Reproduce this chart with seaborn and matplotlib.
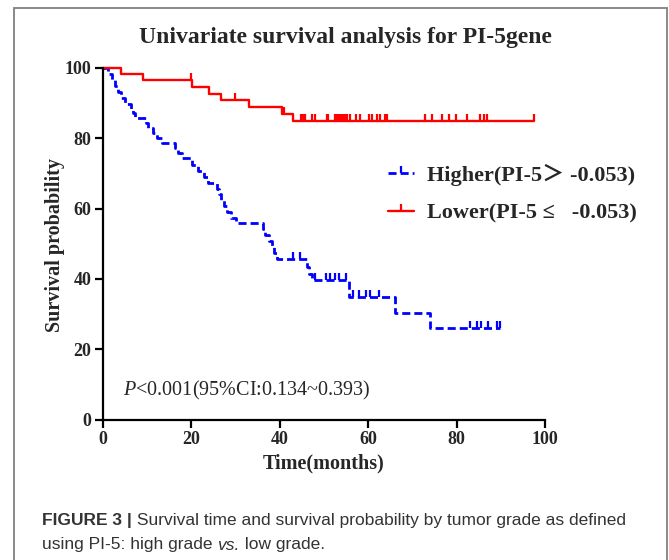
import matplotlib
matplotlib.use("Agg")
import matplotlib.pyplot as plt
import seaborn as sns
import pandas as pd
from matplotlib.lines import Line2D
from matplotlib.patches import Rectangle

# ---------------- data ----------------
title = "Univariate survival analysis for PI-5gene"
x_label = "Time(months)"
y_label = "Survival probability"
x_ticks = [0, 20, 40, 60, 80, 100]
y_ticks = [0, 20, 40, 60, 80, 100]
legend_labels = ["Higher(PI-5\uff1e -0.053)", "Lower(PI-5 \u2264   -0.053)"]
p_text = r"$\mathit{P}$<0.001(95%CI:0.134~0.393)"

# Higher group: step times (months) and survival (%) after each step
high_t = [0, 1.3, 2.0, 2.8, 3.5, 4.2, 5.0, 6.5, 6.9, 7.4,
          9.7, 10.3, 11.3, 12.3, 13.3, 16.4, 17.0, 17.9,
          20.1, 21.6, 22.8, 23.8, 25.9, 26.3, 26.8, 27.5, 28.2, 28.9, 30.2,
          36.2, 36.8, 37.5, 38.2, 38.7, 39.4, 46.2, 46.7, 47.3,
          55.6, 66.1, 73.9, 89.9]
high_s = [100, 98.3, 96.6, 94.9, 93.2, 91.5, 89.8, 88.4, 87.0, 85.7,
          84.3, 82.8, 81.4, 80.0, 78.5, 77.1, 75.7, 74.3,
          72.5, 70.7, 68.9, 67.2, 65.6, 64.0, 62.3, 60.7, 59.1, 57.4, 55.8,
          54.1, 52.4, 50.7, 49.0, 47.3, 45.6, 43.4, 41.5, 39.7,
          34.9, 30.4, 26.1, 26.1]
high_cens_t = [43.0, 44.6, 48.0, 50.5, 51.5, 52.5, 53.5, 55.0,
               56.5, 58.0, 59.5, 60.5, 62.5,
               83.1, 84.6, 85.5, 87.2, 89.1, 89.9]
high_cens_s = [45.6, 45.6, 39.7, 39.7, 39.7, 39.7, 39.7, 39.7,
               34.9, 34.9, 34.9, 34.9, 34.9,
               26.1, 26.1, 26.1, 26.1, 26.1, 26.1]

# Lower group
low_t = [0, 4.1, 9.2, 20.1, 24.0, 26.8, 33.0, 40.6, 43.0, 97.6]
low_s = [100, 98.2, 96.4, 94.5, 92.5, 90.8, 88.8, 86.9, 84.9, 84.9]
low_cens_t = [19.9, 29.8, 41.0,
              44.8, 45.2, 45.7, 47.3, 48.0, 50.7, 51.0, 52.6, 52.9, 53.3,
              53.7, 54.1, 54.4, 54.8, 55.2, 55.9, 57.3, 58.1, 60.1, 60.9,
              62.0, 62.7, 63.9, 64.3, 72.9, 74.4, 76.7, 78.4, 79.9, 82.4,
              85.4, 86.1, 86.9, 97.6]
low_cens_s = [96.4, 90.8, 86.9] + [84.9] * 34

caption_bold = "FIGURE 3 |"
caption_line1 = " Survival time and survival probability by tumor grade as defined"
caption_line2a = "using PI-5: high grade "
caption_line2b = "vs."
caption_line2c = " low grade."

# ---------------- style ----------------
sns.set_style("ticks")
plt.rcParams["font.family"] = ["Liberation Serif", "DejaVu Serif"]
plt.rcParams["mathtext.fontset"] = "custom"
plt.rcParams["mathtext.rm"] = "Liberation Serif"
plt.rcParams["mathtext.it"] = "Liberation Serif:italic"

BLUE = "#0000ff"
RED = "#ff0000"
DASH = (0, (2.9, 1.45))

W, H = 669, 560
fig = plt.figure(figsize=(W / 100, H / 100), dpi=100)
x0, x1 = 102.7, 545.0
y0, y1 = 419.7, 67.7
ax = fig.add_axes([x0 / W, 1 - y0 / H, (x1 - x0) / W, (y0 - y1) / H])

high_df = pd.DataFrame({"t": high_t, "s": high_s})
low_df = pd.DataFrame({"t": low_t, "s": low_s})
hc_df = pd.DataFrame({"t": high_cens_t, "s": high_cens_s})
lc_df = pd.DataFrame({"t": low_cens_t, "s": low_cens_s})

sns.lineplot(data=high_df, x="t", y="s", drawstyle="steps-post", color=BLUE,
             linestyle=DASH, linewidth=2.0, estimator=None, sort=False,
             ax=ax, clip_on=False)
sns.lineplot(data=hc_df, x="t", y="s", color=BLUE, marker=2, linestyle="none",
             markersize=5, markeredgewidth=1.6, markeredgecolor=BLUE,
             estimator=None, sort=False, ax=ax, clip_on=False)
sns.lineplot(data=low_df, x="t", y="s", drawstyle="steps-post", color=RED,
             linewidth=1.7, estimator=None, sort=False, ax=ax, clip_on=False)
sns.lineplot(data=lc_df, x="t", y="s", color=RED, marker=2, linestyle="none",
             markersize=5, markeredgewidth=1.6, markeredgecolor=RED,
             estimator=None, sort=False, ax=ax, clip_on=False)

ax.set_xlim(0, 100)
ax.set_ylim(0, 100)
ax.set_xticks(x_ticks)
ax.set_yticks(y_ticks)
ax.set_xticklabels([str(v) for v in x_ticks], fontweight="bold", fontsize=13)
ax.set_yticklabels([str(v) for v in y_ticks], fontweight="bold", fontsize=13)
ax.tick_params(direction="out", length=6, width=1.6, color="black", pad=2)
for side in ["top", "right"]:
    ax.spines[side].set_visible(False)
for side in ["left", "bottom"]:
    ax.spines[side].set_linewidth(1.6)
    ax.spines[side].set_color("black")

ax.set_xlabel(x_label, fontsize=14.5, fontweight="bold")
ax.set_ylabel(y_label, fontsize=14.5, fontweight="bold")
ax.xaxis.set_label_coords(0.5, (y0 - 463) / (y0 - y1))
ax.xaxis.label.set_va("center")
ax.yaxis.set_label_coords((55 - x0) / (x1 - x0), (y0 - 245) / (y0 - y1))
ax.yaxis.label.set_va("center")

ax.text(4.6, 8.4, p_text, fontsize=14.5, va="center", ha="left")

handles = [
    Line2D([], [], color=BLUE, lw=2.0, ls=DASH, marker=2, ms=5, mew=1.6),
    Line2D([], [], color=RED, lw=1.7, marker=2, ms=5, mew=1.6),
]
ax.legend(handles, legend_labels, loc="center left",
          bbox_to_anchor=((368 - x0) / (x1 - x0), (y0 - 193.5) / (y0 - y1)),
          frameon=False, numpoints=1, handlelength=1.15, handletextpad=0.6,
          labelspacing=0.78,
          prop=dict(family=["Liberation Serif", "Noto Sans CJK SC"],
                    weight="bold", size=16))

fig.text(345 / W, 1 - 37 / H, title, ha="center", va="center",
         fontsize=17, fontweight="bold")

# figure frame
fig.patches.append(Rectangle((14 / W, -0.02), (667 - 14) / W, 1 - 8 / H + 0.02,
                             transform=fig.transFigure, fill=False,
                             edgecolor="#808080", linewidth=1.3))

# caption
cap_font = dict(family=["Liberation Sans", "DejaVu Sans"], fontsize=12.5,
                color="#333333", va="center", ha="left")
renderer = fig.canvas.get_renderer()
t1 = fig.text(42 / W, 1 - 520 / H, caption_bold, fontweight="bold", **cap_font)
bb = t1.get_window_extent(renderer)
fig.text(bb.x1 / W, 1 - 520 / H, caption_line1, **cap_font)
t2 = fig.text(42 / W, 1 - 545 / H, caption_line2a, **cap_font)
bb2 = t2.get_window_extent(renderer)
t3 = fig.text(bb2.x1 / W, 1 - 545 / H, caption_line2b, style="italic", **cap_font)
bb3 = t3.get_window_extent(renderer)
fig.text(bb3.x1 / W, 1 - 545 / H, caption_line2c, **cap_font)

fig.savefig("out.png", dpi=100)
